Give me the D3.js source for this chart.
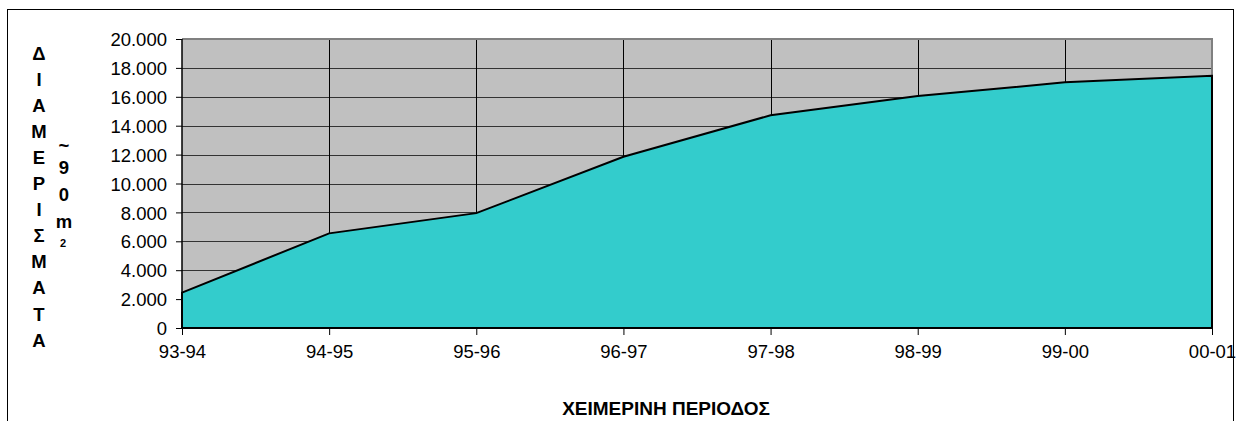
<!DOCTYPE html>
<html><head><meta charset="utf-8">
<script src="https://cdn.jsdelivr.net/npm/d3@7"></script>
<style>body{margin:0;background:#fff}svg{display:block}text{font-family:"Liberation Sans",Arial,sans-serif}</style>
</head><body>
<script>
const categories = ["93-94","94-95","95-96","96-97","97-98","98-99","99-00","00-01"];
const values = [2450, 6550, 7950, 11850, 14720, 16050, 17000, 17450];
const yTicks = [0,2000,4000,6000,8000,10000,12000,14000,16000,18000,20000];
const yLabelLetters = ["Δ","Ι","Α","Μ","Ε","Ρ","Ι","Σ","Μ","Α","Τ","Α"];
const unitLetters = ["~","9","0","m"];
const xTitle = "ΧΕΙΜΕΡΙΝΗ ΠΕΡΙΟΔΟΣ";

const W = 1240, H = 421;
const L = 182, R = 1212, T = 39, B = 328;
const svg = d3.select("body").append("svg").attr("width", W).attr("height", H);

svg.append("rect").attr("x", 7.5).attr("y", 9.5).attr("width", 1226).attr("height", 430)
  .attr("fill", "#fff").attr("stroke", "#000").attr("stroke-width", 1);

const x = d3.scalePoint().domain(categories).range([L, R]);
const y = d3.scaleLinear().domain([0, 20000]).range([B, T]);
const fmt = d3.formatLocale({decimal: ",", thousands: ".", grouping: [3], currency: ["", ""]}).format(",");

svg.append("rect").attr("x", L).attr("y", T).attr("width", R - L).attr("height", B - T).attr("fill", "#C0C0C0");

svg.append("g").selectAll("line").data(yTicks.filter(d => d > 0)).join("line")
  .attr("x1", L).attr("x2", R).attr("y1", d => Math.round(y(d)) + 0.5).attr("y2", d => Math.round(y(d)) + 0.5)
  .attr("stroke", "#333").attr("stroke-width", 1);
svg.append("g").selectAll("line").data(categories.slice(1, -1)).join("line")
  .attr("x1", d => Math.round(x(d)) + 0.5).attr("x2", d => Math.round(x(d)) + 0.5).attr("y1", T).attr("y2", B)
  .attr("stroke", "#000").attr("stroke-width", 1);

svg.append("path").attr("d", `M${L},${T}H${R}V${B}`).attr("fill", "none").attr("stroke", "#808080").attr("stroke-width", 2);

const area = d3.area().x((d, i) => x(categories[i])).y0(y(0)).y1(d => y(d));
svg.append("path").datum(values).attr("d", area).attr("fill", "#33CCCC").attr("stroke", "#000").attr("stroke-width", 2).attr("stroke-linejoin", "miter");

const yAxis = d3.axisLeft(y).tickValues(yTicks).tickFormat(fmt).tickSize(6).tickPadding(9);
const gy = svg.append("g").attr("transform", `translate(${L},0)`).call(yAxis);
const xAxis = d3.axisBottom(x).tickSize(7).tickPadding(10);
const gx = svg.append("g").attr("transform", `translate(0,${B})`).call(xAxis);
[gy, gx].forEach(g => {
  g.selectAll(".tick line").attr("stroke", "#000");
  g.selectAll(".tick text").attr("fill", "#000").style("font-size", "18.5px");
  g.select(".domain").remove();
});
svg.append("line").attr("x1", L).attr("x2", L).attr("y1", T).attr("y2", B + 1).attr("stroke", "#000").attr("stroke-width", 1.5);
svg.append("line").attr("x1", L).attr("x2", R).attr("y1", B).attr("y2", B).attr("stroke", "#000").attr("stroke-width", 2);
gy.selectAll(".tick text").attr("dy", "0.36em");
gx.selectAll(".tick text").attr("dy", "0.71em");

svg.append("g").selectAll("text").data(yLabelLetters).join("text")
  .attr("x", 39).attr("y", (d, i) => 59.5 + i * 26.1).attr("text-anchor", "middle")
  .style("font-size", "18.5px").style("font-weight", "bold").text(d => d);
svg.append("g").selectAll("text").data(unitLetters).join("text")
  .attr("x", 64).attr("y", (d, i) => i === 0 ? 152 : 173.5 + (i - 1) * 27).attr("text-anchor", "middle")
  .style("font-size", "18.5px").style("font-weight", "bold").text(d => d);
svg.append("text").attr("x", 63).attr("y", 247).attr("text-anchor", "middle")
  .style("font-size", "11px").style("font-weight", "bold").text("2");

svg.append("text").attr("x", 666).attr("y", 415).attr("text-anchor", "middle")
  .style("font-size", "19px").style("font-weight", "bold").text(xTitle);
</script>
</body></html>
